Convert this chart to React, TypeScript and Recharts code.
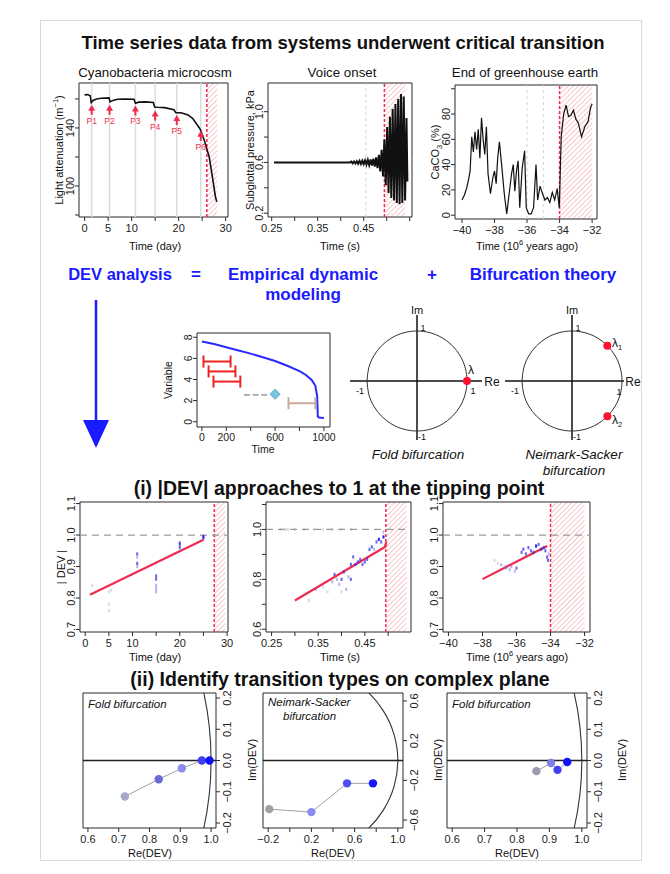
import React from "react";
import {
  ComposedChart,
  XAxis,
  YAxis,
  Line,
  Scatter,
  ReferenceArea,
  ReferenceLine,
  ErrorBar,
  Cell,
} from "recharts";

const FONT = '"Liberation Sans", Arial, Helvetica, sans-serif';
const INK = "#2b2b2b";
const RED = "#ef2b4f";
const PAD = 40;

type Pt = [number, number];
const xy = (a: Pt[]) => a.map(([x, y]) => ({ x, y }));

// ---------------- top row ----------------
const cyanoCurve: Pt[] = [
  [0, 162.8], [0.6, 163], [1.2, 162.2], [1.4, 157.5], [1.8, 159], [2.5, 160], [3.5, 160.5], [5.2, 160.7],
  [5.4, 158], [6, 159], [7, 159.8], [8.5, 160], [10.5, 159.8], [10.8, 157], [11.5, 157.8], [13, 158],
  [14.6, 157.5], [14.9, 154.5], [15.5, 154.3], [17, 154], [19, 152.5], [19.4, 150.5], [20.5, 150.5],
  [22, 149], [23, 146.5], [24.2, 141], [24.6, 139], [25.5, 131], [26.5, 120], [27.2, 106], [27.8, 93], [28.1, 89],
];
const cyanoPerturbDays = [1.5, 5.3, 10.8, 15, 19.6, 24.7];
const cyanoArrowTips = [156, 156, 155.5, 152, 149, 138];
const cyanoPerturbNames = ["P1", "P2", "P3", "P4", "P5", "P6"];
const cyanoTransition: Pt = [26, 28.2];

const voiceSignal: Pt[] = [
  [0.255, 0.6], [0.42, 0.6], [0.423, 0.607], [0.426, 0.593], [0.429, 0.608], [0.432, 0.592], [0.435, 0.61],
  [0.438, 0.59], [0.441, 0.612], [0.444, 0.588], [0.447, 0.614], [0.45, 0.586], [0.453, 0.617], [0.456, 0.583],
  [0.459, 0.62], [0.462, 0.58], [0.465, 0.624], [0.468, 0.575], [0.471, 0.63], [0.474, 0.568], [0.477, 0.64],
  [0.48, 0.555], [0.483, 0.66], [0.486, 0.53], [0.489, 0.7], [0.492, 0.49], [0.495, 0.78], [0.498, 0.42],
  [0.501, 0.88], [0.504, 0.36], [0.507, 0.96], [0.51, 0.32], [0.513, 1.02], [0.516, 0.3], [0.519, 1.06],
  [0.522, 0.28], [0.525, 1.1], [0.528, 0.27], [0.531, 1.14], [0.534, 0.28], [0.537, 1.12], [0.54, 0.3],
  [0.543, 0.95], [0.545, 0.45],
];
const voiceTransition: Pt = [0.495, 0.54];

const caco3Record: Pt[] = [
  [-40.0, 12], [-39.85, 16], [-39.7, 22], [-39.6, 28], [-39.5, 35], [-39.4, 62], [-39.3, 50], [-39.2, 66],
  [-39.1, 52], [-39.0, 68], [-38.9, 45], [-38.8, 77], [-38.7, 60], [-38.6, 48], [-38.5, 70], [-38.4, 33],
  [-38.25, 17], [-38.1, 30], [-38.0, 35], [-37.9, 25], [-37.8, 46], [-37.7, 58], [-37.55, 38], [-37.4, 17],
  [-37.25, 1], [-37.1, 17], [-36.95, 33], [-36.85, 40], [-36.75, 19], [-36.65, 35], [-36.55, 43], [-36.45, 6],
  [-36.3, 37], [-36.15, 51], [-36.05, 6], [-35.9, 1], [-35.75, 1], [-35.6, 6], [-35.45, 40], [-35.35, 12],
  [-35.2, 23], [-35.05, 17], [-34.9, 12], [-34.75, 14], [-34.6, 10], [-34.45, 18], [-34.3, 12], [-34.15, 21],
  [-34.02, 6], [-33.9, 62], [-33.75, 80], [-33.6, 87], [-33.45, 78], [-33.3, 79], [-33.15, 83], [-33.0, 76],
  [-32.85, 73], [-32.65, 62], [-32.45, 70], [-32.25, 74], [-32.1, 85], [-32.0, 88],
];
const caco3Transition: Pt = [-34, -32];

// ---------------- EDM sketch ----------------
const edmSeries: Pt[] = [
  [0, 7.6], [100, 7.35], [200, 7.05], [300, 6.75], [400, 6.45], [500, 6.1], [600, 5.75], [700, 5.3],
  [800, 4.8], [850, 4.45], [900, 3.95], [930, 3.4], [945, 2.4], [950, 0.5], [960, 0.4], [1000, 0.35],
];
// [centre, value, half width]
const edmWindows: [number, number, number][] = [[124, 5.7, 111], [165, 4.76, 110], [205, 3.8, 110]];
const edmLastWindow: [number, number, number][] = [[820, 1.75, 110]];
const edmGap: Pt[] = [[370, 2.54], [440, 2.54], [510, 2.54]];
const edmForecast: Pt[] = [[600, 2.6]];

// ---------------- unit circle ----------------
const unitCircle: Pt[] = [
  [-1, 0], [-0.966, -0.259], [-0.866, -0.5], [-0.707, -0.707], [-0.5, -0.866], [-0.259, -0.966], [0, -1],
  [0.259, -0.966], [0.5, -0.866], [0.707, -0.707], [0.866, -0.5], [0.966, -0.259], [1, 0], [0.966, 0.259],
  [0.866, 0.5], [0.707, 0.707], [0.5, 0.866], [0.259, 0.966], [0, 1], [-0.259, 0.966], [-0.5, 0.866],
  [-0.707, 0.707], [-0.866, 0.5], [-0.966, 0.259], [-1, 0],
];
const foldEigen: Pt[] = [[1, 0]];
const nsEigen: Pt[] = [[0.707, 0.707], [0.707, -0.707]];

// ---------------- |DEV| row: [time, |DEV|, tone] ----------------
type Dv = [number, number, number];
const devCyano: Dv[] = [
  [1.5, 0.84, 0], [5, 0.82, 0], [5, 0.78, 0], [5, 0.76, 0], [5.5, 0.825, 0], [11, 0.94, 2], [11, 0.93, 1],
  [11, 0.91, 2], [11, 0.9, 1], [15, 0.87, 2], [15, 0.86, 2], [15, 0.84, 1], [15, 0.83, 1], [15, 0.82, 1],
  [20, 0.975, 2], [20, 0.97, 2], [20, 0.96, 2], [25, 0.995, 3], [25, 0.99, 2],
];
const devCyanoFit: Pt[] = [[1, 0.81], [25, 0.985]];
const devCyanoTransition: Pt = [27.3, 29.6];

const devVoice: Dv[] = [
  [0.27, 1.0, 0], [0.28, 1.0, 0], [0.285, 1.0, 0], [0.3, 1.0, 0], [0.32, 1.0, 0], [0.34, 1.0, 0], [0.36, 1.0, 0],
  [0.38, 1.0, 0], [0.4, 1.0, 0], [0.42, 1.0, 0], [0.33, 0.715, 0], [0.345, 0.76, 1], [0.36, 0.77, 0],
  [0.37, 0.75, 0], [0.38, 0.79, 1], [0.385, 0.82, 2], [0.39, 0.8, 1], [0.395, 0.78, 1], [0.4, 0.8, 2],
  [0.4, 0.75, 0], [0.405, 0.83, 2], [0.41, 0.76, 1], [0.415, 0.81, 1], [0.42, 0.8, 2], [0.42, 0.86, 2],
  [0.425, 0.89, 2], [0.43, 0.86, 2], [0.435, 0.87, 2], [0.44, 0.88, 2], [0.445, 0.86, 2], [0.45, 0.87, 2],
  [0.455, 0.88, 2], [0.46, 0.92, 2], [0.465, 0.93, 2], [0.47, 0.92, 1], [0.475, 0.95, 2], [0.48, 0.96, 3],
  [0.485, 0.95, 2], [0.49, 0.97, 3], [0.49, 0.99, 1],
];
const devVoiceFit: Pt[] = [[0.3, 0.715], [0.493, 0.93], [0.496, 0.95]];

const devEarth: Dv[] = [
  [-37.3, 0.92, 0], [-37.1, 0.91, 0], [-36.9, 0.905, 1], [-36.7, 0.9, 0], [-36.6, 0.895, 1], [-36.4, 0.89, 1],
  [-36.3, 0.9, 1], [-36.1, 0.885, 1], [-36.0, 0.895, 2], [-35.7, 0.945, 2], [-35.6, 0.955, 2], [-35.45, 0.94, 2],
  [-35.3, 0.96, 2], [-35.15, 0.95, 2], [-35.0, 0.945, 2], [-34.85, 0.965, 3], [-34.7, 0.97, 2], [-34.55, 0.955, 2],
  [-34.4, 0.96, 2], [-34.3, 0.95, 2], [-34.2, 0.93, 2], [-34.15, 0.92, 2], [-34.1, 0.94, 1],
];
const devEarthFit: Pt[] = [[-38, 0.86], [-34.2, 0.965]];

// ---------------- complex plane row ----------------
const cxCyano: Pt[] = [[0.72, -0.115], [0.83, -0.06], [0.905, -0.025], [0.97, 0], [0.995, 0]];
const cxCyanoColors = ["#a8a8c8", "#6a6ad8", "#8c8cec", "#3c3cf2", "#1010ff"];
const cxVoice: Pt[] = [[-0.19, -0.49], [0.2, -0.52], [0.53, -0.23], [0.77, -0.23]];
const cxVoiceColors = ["#a0a0a8", "#8a8af0", "#5050f0", "#1515ff"];
const cxEarth: Pt[] = [[0.86, -0.034], [0.905, -0.008], [0.925, -0.03], [0.955, -0.005]];
const cxEarthColors = ["#9a9ab0", "#8080e8", "#4040f0", "#1010ff"];

const toneColors = ["rgba(150,150,170,0.35)", "rgba(90,90,230,0.45)", "rgba(40,40,230,0.7)", "rgba(10,10,255,0.9)"];

// ---------------- helpers ----------------
type AxisCfg = { domain: [number, number]; ticks: number[]; labels: number[]; digits: number };
type Box = [number, number, number, number];

const fmt = (v: number, d: number) => (v < 0 ? "\u2212" : "") + Math.abs(v).toFixed(d);
const hasLabel = (ax: AxisCfg, v: number) => ax.labels.some((u) => Math.abs(u - v) < 1e-9);

function bottomTick(ax: AxisCfg, size: number) {
  return (p: any) => (
    <text x={p.x} y={p.y + size * 0.8} textAnchor="middle" fontSize={size} fontFamily={FONT} fill="#222">
      {hasLabel(ax, p.payload.value) ? fmt(p.payload.value, ax.digits) : ""}
    </text>
  );
}
function sideTick(ax: AxisCfg, size: number, right?: boolean) {
  return (p: any) => {
    const bx = right ? p.x + size * 0.78 : p.x + 1;
    return (
      <text x={bx} y={p.y} transform={`rotate(-90 ${bx} ${p.y})`} textAnchor="middle" fontSize={size} fontFamily={FONT} fill="#222">
        {hasLabel(ax, p.payload.value) ? fmt(p.payload.value, ax.digits) : ""}
      </text>
    );
  };
}

function Plot({ box, x, y, right, size = 11, children }: { box: Box; x: AxisCfg; y: AxisCfg; right?: boolean; size?: number; children?: React.ReactNode }) {
  const [l, t, r, b] = box;
  return (
    <div style={{ position: "absolute", left: l - PAD, top: t - PAD }}>
      <ComposedChart
        width={r - l + 2 * PAD}
        height={b - t + 2 * PAD}
        margin={{ top: PAD, bottom: 0, left: right ? PAD : 0, right: right ? 0 : PAD }}
      >
        <XAxis type="number" dataKey="x" domain={x.domain} ticks={x.ticks} interval={0} allowDataOverflow axisLine={false}
          tickSize={4} tickMargin={2} height={PAD} tick={bottomTick(x, size)} tickLine={{ stroke: INK }} />
        <YAxis type="number" dataKey="y" domain={y.domain} ticks={y.ticks} interval={0} allowDataOverflow axisLine={false}
          orientation={right ? "right" : "left"} width={PAD} tickSize={4} tickMargin={2} tick={sideTick(y, size, right)} tickLine={{ stroke: INK }} />
        {children}
        <ReferenceArea x1={x.domain[0]} x2={x.domain[1]} y1={y.domain[0]} y2={y.domain[1]} fill="none" stroke={INK} strokeWidth={1} ifOverflow="visible" />
      </ComposedChart>
    </div>
  );
}

const devDot = (p: any) => <rect x={p.cx - 1} y={p.cy - 1.6} width={2} height={3.2} fill={toneColors[p.payload.tone]} />;
const dv = (a: Dv[]) => a.map(([x, y, tone]) => ({ x, y, tone }));

function hatch(range: Pt, yd: [number, number]) {
  return [
    <ReferenceArea key="h" x1={range[0]} x2={range[1]} y1={yd[0]} y2={yd[1]} fill="url(#hatch)" stroke="none" ifOverflow="hidden" />,
    <ReferenceLine key="hl" x={range[0]} stroke={RED} strokeWidth={1.5} strokeDasharray="3 2" />,
  ];
}

function Txt({ x, y, s, size = 12, bold, italic, color = "#111", rot, left }: { x: number; y: number; s: React.ReactNode; size?: number; bold?: boolean; italic?: boolean; color?: string; rot?: boolean; left?: boolean }) {
  return (
    <div style={{ position: "absolute", left: x, top: y, transform: `translate(${left ? "0" : "-50%"}, -50%)${rot ? " rotate(-90deg)" : ""}`,
      whiteSpace: "nowrap", fontFamily: FONT, fontSize: size, fontWeight: bold ? 700 : 400, fontStyle: italic ? "italic" : "normal", color, lineHeight: 1 }}>
      {s}
    </div>
  );
}

const sup = (s: string) => <sup style={{ fontSize: 7.5, lineHeight: 0 }}>{s}</sup>;
const sub = (s: string) => <sub style={{ fontSize: 7.5, lineHeight: 0 }}>{s}</sub>;

// ---------------- panels ----------------
const dayAxisTop: AxisCfg = { domain: [-1.2, 30.5], ticks: [0, 5, 10, 15, 20, 25, 30], labels: [0, 5, 10, 20, 30], digits: 0 };
const lightAxis: AxisCfg = { domain: [78.6, 171], ticks: [80, 100, 120, 140, 160], labels: [100, 140], digits: 0 };
const voiceTime: AxisCfg = { domain: [0.242, 0.555], ticks: [0.25, 0.3, 0.35, 0.4, 0.45, 0.5, 0.55], labels: [0.25, 0.35, 0.45], digits: 2 };
const pressure: AxisCfg = { domain: [0.17, 1.226], ticks: [0.2, 0.4, 0.6, 0.8, 1.0], labels: [0.2, 0.6, 1.0], digits: 1 };
const mya: AxisCfg = { domain: [-40.43, -31.7], ticks: [-40, -38, -36, -34, -32], labels: [-40, -38, -36, -34, -32], digits: 0 };
const caco3Axis: AxisCfg = { domain: [-3, 103], ticks: [0, 20, 40, 60, 80, 100], labels: [0, 20, 40, 60, 80], digits: 0 };

function Cyano() {
  return (
    <Plot box={[79, 83, 228, 217]} x={dayAxisTop} y={lightAxis}>
      {cyanoPerturbDays.map((d) => (
        <ReferenceLine key={d} x={d} stroke="#dcdcdc" strokeWidth={1.5} />
      ))}
      {hatch(cyanoTransition, lightAxis.domain)}
      <Line data={xy(cyanoCurve)} dataKey="y" type="linear" stroke="#111" strokeWidth={1.6} dot={false} isAnimationActive={false} />
      <Scatter
        data={cyanoPerturbDays.map((d, i) => ({ x: d, y: cyanoArrowTips[i], lab: cyanoPerturbNames[i] }))}
        isAnimationActive={false}
        shape={(p: any) => (
          <g>
            <path d={`M${p.cx},${p.cy} l-3.5,6 l7,0 z`} fill={RED} />
            <line x1={p.cx} y1={p.cy + 5} x2={p.cx} y2={p.cy + 10} stroke={RED} strokeWidth={2} />
            <text x={p.cx} y={p.cy + 19} textAnchor="middle" fontSize={8.5} fontFamily={FONT} fill={RED}>{p.payload.lab}</text>
          </g>
        )}
      />
    </Plot>
  );
}

function Voice() {
  return (
    <Plot box={[268, 83, 412, 217]} x={voiceTime} y={pressure}>
      <ReferenceLine x={0.455} stroke="#cfcfcf" strokeDasharray="3 3" />
      {hatch(voiceTransition, pressure.domain)}
      <Line data={xy(voiceSignal)} dataKey="y" type="linear" stroke="#111" strokeWidth={2} dot={false} isAnimationActive={false} />
    </Plot>
  );
}

function Earth() {
  return (
    <Plot box={[455, 85, 597, 219]} x={mya} y={caco3Axis}>
      <ReferenceLine x={-36} stroke="#cfd6e0" strokeDasharray="3 3" />
      <ReferenceLine x={-35} stroke="#cfd6e0" strokeDasharray="3 3" />
      {hatch(caco3Transition, caco3Axis.domain)}
      <Line data={xy(caco3Record)} dataKey="y" type="linear" stroke="#111" strokeWidth={1.2} dot={false} isAnimationActive={false} />
    </Plot>
  );
}

const edmTime: AxisCfg = { domain: [-40, 1050], ticks: [0, 200, 400, 600, 800, 1000], labels: [0, 200, 600, 1000], digits: 0 };
const edmVar: AxisCfg = { domain: [-0.5, 8.4], ticks: [0, 2, 4, 6, 8], labels: [0, 2, 4, 6, 8], digits: 0 };
const bar = (a: [number, number, number][]) => a.map(([x, y, e]) => ({ x, y, e }));

function Edm() {
  return (
    <Plot box={[197, 333, 330, 427]} x={edmTime} y={edmVar} size={10.5}>
      <Line data={xy(edmSeries)} dataKey="y" type="linear" stroke="#2a2aff" strokeWidth={2} dot={false} isAnimationActive={false} />
      <Scatter data={bar(edmWindows)} isAnimationActive={false} shape={() => <g />}>
        <ErrorBar dataKey="e" direction="x" width={6} stroke="#ee2222" strokeWidth={2} isAnimationActive={false} />
      </Scatter>
      <Scatter data={bar(edmLastWindow)} isAnimationActive={false} shape={() => <g />}>
        <ErrorBar dataKey="e" direction="x" width={6} stroke="#c9ab98" strokeWidth={2} isAnimationActive={false} />
      </Scatter>
      <Scatter data={xy(edmGap)} isAnimationActive={false} shape={(p: any) => <rect x={p.cx - 3} y={p.cy - 1} width={6} height={2} fill="#aab0b8" />} />
      <Scatter data={xy(edmForecast)} isAnimationActive={false}
        shape={(p: any) => <path d={`M${p.cx},${p.cy - 5} l5,5 l-5,5 l-5,-5 z`} fill="#7cc3e0" stroke="#5aa8cc" />} />
    </Plot>
  );
}

function CircleDiagram({ left, top, eig, reEnd }: { left: number; top: number; eig: Pt[]; reEnd: number }) {
  return (
    <div style={{ position: "absolute", left, top }}>
      <ComposedChart width={140} height={140} margin={{ top: 0, right: 0, bottom: 0, left: 0 }}>
        <XAxis type="number" dataKey="x" domain={[-1.4, 1.4]} hide allowDataOverflow />
        <YAxis type="number" dataKey="y" domain={[-1.4, 1.4]} hide allowDataOverflow />
        <ReferenceLine segment={[{ x: -1.34, y: 0 }, { x: reEnd, y: 0 }]} stroke="#111" strokeWidth={1.5} />
        <ReferenceLine segment={[{ x: 0, y: -1.18 }, { x: 0, y: 1.32 }]} stroke="#111" strokeWidth={1.5} />
        <Line data={xy(unitCircle)} dataKey="y" type="natural" stroke="#333" strokeWidth={1} dot={false} isAnimationActive={false} />
        <Scatter data={xy(eig)} isAnimationActive={false} shape={(p: any) => <circle cx={p.cx} cy={p.cy} r={4} fill="#ff1030" />} />
      </ComposedChart>
    </div>
  );
}

const devDay: AxisCfg = { domain: [-1.1, 30.2], ticks: [0, 5, 10, 15, 20, 25, 30], labels: [0, 5, 10, 20, 30], digits: 0 };
const devAxis: AxisCfg = { domain: [0.692, 1.105], ticks: [0.7, 0.8, 0.9, 1.0, 1.1], labels: [0.7, 0.8, 0.9, 1.0, 1.1], digits: 1 };
const devVoiceTime: AxisCfg = { domain: [0.238, 0.549], ticks: [0.25, 0.3, 0.35, 0.4, 0.45, 0.5], labels: [0.25, 0.35, 0.45], digits: 2 };
const devVoiceAxis: AxisCfg = { domain: [0.589, 1.11], ticks: [0.6, 0.7, 0.8, 0.9, 1.0, 1.1], labels: [0.6, 0.8, 1.0], digits: 1 };
const devMya: AxisCfg = { domain: [-40.32, -31.68], ticks: [-40, -38, -36, -34, -32], labels: [-40, -38, -36, -34, -32], digits: 0 };

function DevPanel({ box, x, y, pts, fit, tr }: { box: Box; x: AxisCfg; y: AxisCfg; pts: Dv[]; fit: Pt[]; tr: Pt }) {
  return (
    <Plot box={box} x={x} y={y}>
      {hatch(tr, y.domain)}
      <ReferenceLine y={1} stroke="#9a9a9a" strokeDasharray="7 5" strokeWidth={1.2} />
      <Scatter data={dv(pts)} isAnimationActive={false} shape={devDot} />
      <Line data={xy(fit)} dataKey="y" type="linear" stroke={RED} strokeWidth={2.2} dot={false} isAnimationActive={false} />
    </Plot>
  );
}

const reFold: AxisCfg = { domain: [0.584, 1.016], ticks: [0.6, 0.7, 0.8, 0.9, 1.0], labels: [0.6, 0.7, 0.8, 0.9, 1.0], digits: 1 };
const imFold: AxisCfg = { domain: [-0.216, 0.216], ticks: [-0.2, -0.1, 0, 0.1, 0.2], labels: [-0.2, -0.1, 0, 0.1, 0.2], digits: 1 };
const reNs: AxisCfg = { domain: [-0.248, 1.048], ticks: [-0.2, 0, 0.2, 0.4, 0.6, 0.8, 1.0], labels: [-0.2, 0.2, 0.6, 1.0], digits: 1 };
const imNs: AxisCfg = { domain: [-0.68, 0.68], ticks: [-0.6, -0.2, 0.2, 0.6], labels: [-0.6, -0.2, 0.2, 0.6], digits: 1 };

function ComplexPanel({ box, x, y, pts, colors }: { box: Box; x: AxisCfg; y: AxisCfg; pts: Pt[]; colors: string[] }) {
  return (
    <Plot box={box} x={x} y={y} right>
      <ReferenceLine y={0} stroke="#222" strokeWidth={1.5} />
      <Line data={xy(unitCircle)} dataKey="y" type="natural" stroke="#333" strokeWidth={1.1} dot={false} isAnimationActive={false} />
      <Line data={xy(pts)} dataKey="y" type="linear" stroke="#a0a0a0" strokeWidth={1} dot={false} isAnimationActive={false} />
      <Scatter data={xy(pts)} isAnimationActive={false} shape={(p: any) => <circle cx={p.cx} cy={p.cy} r={4.2} fill={p.fill} />}>
        {colors.map((c, i) => (
          <Cell key={i} fill={c} />
        ))}
      </Scatter>
    </Plot>
  );
}

function BlueArrow() {
  return (
    <svg style={{ position: "absolute", left: 80, top: 298 }} width={32} height={152}>
      <line x1={16} y1={2} x2={16} y2={126} stroke="#1a1aff" strokeWidth={2.5} />
      <path d="M3,122 L29,122 L16,150 Z" fill="#1a1aff" />
    </svg>
  );
}

export default function App() {
  const blue = "#1a1aff";
  return (
    <div style={{ position: "absolute", left: 0, top: 0, width: 670, height: 874, background: "#fff", overflow: "hidden" }}>
      <svg width={0} height={0} style={{ position: "absolute" }}>
        <defs>
          <pattern id="hatch" patternUnits="userSpaceOnUse" width={3.6} height={3.6} patternTransform="rotate(45)">
            <line x1={0} y1={0} x2={0} y2={3.6} stroke="#f0505c" strokeWidth={1.3} />
          </pattern>
        </defs>
      </svg>
      <div style={{ position: "absolute", left: 40, top: 20, width: 600, height: 839, border: "1px solid #dadada" }} />

      <Txt x={343} y={43} s="Time series data from systems underwent critical transition" size={18.5} bold />
      <Txt x={155} y={73} s="Cyanobacteria microcosm" size={13.3} />
      <Txt x={342} y={73} s="Voice onset" size={13.3} />
      <Txt x={525} y={73} s="End of greenhouse earth" size={13.3} />
      <Txt x={59} y={150} s={<span>Light attenuation (m{sup("−1")})</span>} size={11} rot />
      <Txt x={250} y={150} s="Subglottal pressure, kPa" size={11} rot />
      <Txt x={435} y={152} s={<span>CaCO{sub("3")} (%)</span>} size={11} rot />
      <Txt x={155} y={246} s="Time (day)" size={11} />
      <Txt x={340} y={246} s="Time (s)" size={11} />
      <Txt x={527} y={246} s={<span>Time (10{sup("6")} years ago)</span>} size={11} />
      <Cyano />
      <Voice />
      <Earth />

      <Txt x={120} y={274} s="DEV analysis" size={16.5} bold color={blue} />
      <Txt x={196} y={274} s="=" size={17} bold color={blue} />
      <Txt x={303} y={274} s="Empirical dynamic" size={17} bold color={blue} />
      <Txt x={303} y={294} s="modeling" size={17} bold color={blue} />
      <Txt x={432} y={274} s="+" size={17} bold color={blue} />
      <Txt x={543} y={274} s="Bifurcation theory" size={17} bold color={blue} />
      <BlueArrow />

      <Edm />
      <Txt x={168} y={380} s="Variable" size={10.5} rot />
      <Txt x={263} y={449} s="Time" size={10.5} />

      <CircleDiagram left={347} top={311} eig={foldEigen} reEnd={1.3} />
      <Txt x={417} y={310} s="Im" size={11} />
      <Txt x={423} y={328} s="1" size={9} />
      <Txt x={360} y={391} s="-1" size={9} />
      <Txt x={473} y={391} s="1" size={9} />
      <Txt x={422} y={437} s="-1" size={9} />
      <Txt x={471} y={370} s="λ" size={12} />
      <Txt x={492} y={382} s="Re" size={12} />
      <Txt x={418} y={455} s="Fold bifurcation" size={13.5} italic />

      <CircleDiagram left={502} top={311} eig={nsEigen} reEnd={1.04} />
      <Txt x={572} y={310} s="Im" size={11} />
      <Txt x={578} y={328} s="1" size={9} />
      <Txt x={515} y={391} s="-1" size={9} />
      <Txt x={619} y={392} s="1" size={9} />
      <Txt x={577} y={437} s="-1" size={9} />
      <Txt x={617} y={343} s={<span>λ{sub("1")}</span>} size={12} />
      <Txt x={617} y={420} s={<span>λ{sub("2")}</span>} size={12} />
      <Txt x={633} y={382} s="Re" size={12} />
      <Txt x={574} y={455} s="Neimark-Sacker" size={13.5} italic />
      <Txt x={574} y={471} s="bifurcation" size={13.5} italic />

      <Txt x={339} y={489} s="(i) |DEV| approaches to 1 at the tipping point" size={19.5} bold />
      <DevPanel box={[80, 502, 228, 632]} x={devDay} y={devAxis} pts={devCyano} fit={devCyanoFit} tr={devCyanoTransition} />
      <DevPanel box={[266, 502, 411, 632]} x={devVoiceTime} y={devVoiceAxis} pts={devVoice} fit={devVoiceFit} tr={voiceTransition} />
      <DevPanel box={[443, 502, 590, 632]} x={devMya} y={devAxis} pts={devEarth} fit={devEarthFit} tr={caco3Transition} />
      <Txt x={61} y={567} s="| DEV |" size={11} rot />
      <Txt x={155} y={657} s="Time (day)" size={11} />
      <Txt x={340} y={657} s="Time (s)" size={11} />
      <Txt x={517} y={657} s={<span>Time (10{sup("6")} years ago)</span>} size={11} />

      <Txt x={340} y={680} s="(ii) Identify transition types on complex plane" size={19.5} bold />
      <ComplexPanel box={[83, 693, 216, 828]} x={reFold} y={imFold} pts={cxCyano} colors={cxCyanoColors} />
      <ComplexPanel box={[263, 693, 403, 828]} x={reNs} y={imNs} pts={cxVoice} colors={cxVoiceColors} />
      <ComplexPanel box={[447, 693, 587, 828]} x={reFold} y={imFold} pts={cxEarth} colors={cxEarthColors} />
      <Txt x={88} y={705} s="Fold bifurcation" size={11.5} italic left />
      <Txt x={268} y={703} s="Neimark-Sacker" size={11.5} italic left />
      <Txt x={283} y={717} s="bifurcation" size={11.5} italic left />
      <Txt x={452} y={705} s="Fold bifurcation" size={11.5} italic left />
      <Txt x={252} y={760} s="Im(DEV)" size={11} rot />
      <Txt x={438} y={760} s="Im(DEV)" size={11} rot />
      <Txt x={622} y={760} s="Im(DEV)" size={11} rot />
      <Txt x={150} y={853} s="Re(DEV)" size={11} />
      <Txt x={333} y={853} s="Re(DEV)" size={11} />
      <Txt x={517} y={853} s="Re(DEV)" size={11} />
    </div>
  );
}
